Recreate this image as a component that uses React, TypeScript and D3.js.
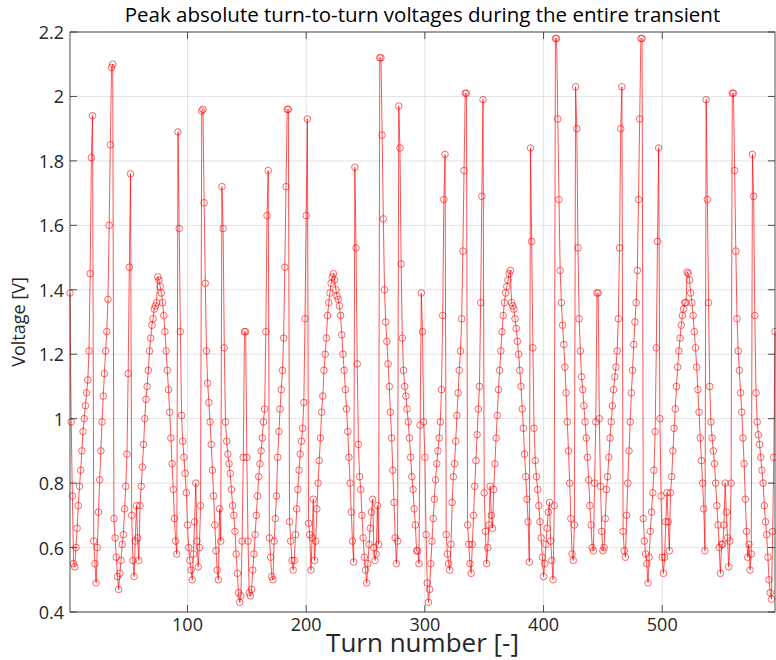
import React from "react";
import * as d3 from "d3";

// Peak absolute turn-to-turn voltage [V] for turn 1..N (turn = index + 1)
const peakVoltage: number[] = [
  // turns 1-20
  1.39, 0.99, 0.76, 0.55, 0.54, 0.60, 0.66, 0.73, 0.79, 0.84, 0.90, 0.96, 1.00, 1.04, 1.08, 1.12, 1.21, 1.45, 1.81, 1.94,
  // 21-37
  0.62, 0.55, 0.49, 0.60, 0.71, 0.81, 0.90, 0.99, 1.07, 1.14, 1.21, 1.27, 1.37, 1.60, 1.85, 2.09, 2.10,
  // 38-52
  0.69, 0.63, 0.57, 0.51, 0.47, 0.52, 0.56, 0.61, 0.64, 0.72, 0.79, 0.89, 1.14, 1.47, 1.76,
  // 53-92
  0.70, 0.56, 0.51, 0.62, 0.73, 0.63, 0.56,
  0.73, 0.79, 0.85, 0.92, 1.00, 1.06, 1.10, 1.15, 1.21, 1.25, 1.29, 1.31, 1.34, 1.35, 1.36,
  1.44,
  1.43, 1.41, 1.39, 1.36, 1.32, 1.27, 1.21, 1.15, 1.09, 1.02, 0.94, 0.86, 0.78, 0.69, 0.62, 0.58,
  1.89,
  // 93-113
  1.59, 1.27, 1.01, 0.93, 0.88, 0.83, 0.77, 0.67, 0.60, 0.56, 0.53, 0.50, 0.58, 0.68, 0.80, 0.62, 0.54, 0.60, 0.73, 1.955, 1.96,
  // 114-129
  1.67, 1.42, 1.21, 1.11, 1.05, 0.99, 0.92, 0.84, 0.76, 0.67, 0.59, 0.53, 0.50, 0.72, 0.62, 1.72,
  // 130-149
  1.59, 1.22, 0.99, 0.93, 0.89, 0.86, 0.83, 0.78, 0.73, 0.70, 0.65, 0.58, 0.52, 0.46, 0.43, 0.45, 0.62, 0.88, 1.27, 1.27,
  // 150-168
  0.88, 0.62, 0.46, 0.45, 0.47, 0.53, 0.58, 0.64, 0.70, 0.76, 0.82, 0.86, 0.90, 0.94, 0.99, 1.03, 1.27, 1.63, 1.77,
  // 169-185
  0.63, 0.57, 0.51, 0.50, 0.62, 0.69, 0.76, 0.88, 0.96, 1.03, 1.09, 1.15, 1.25, 1.47, 1.72, 1.96, 1.96,
  // 186-201
  0.68, 0.62, 0.56, 0.53, 0.56, 0.64, 0.72, 0.78, 0.84, 0.89, 0.93, 0.97, 1.05, 1.31, 1.63, 1.93,
  // 202-241
  0.675, 0.64, 0.53, 0.63, 0.75, 0.56, 0.62, 0.72, 0.80, 0.87, 0.94, 1.02, 1.07, 1.15, 1.20, 1.25, 1.32, 1.36, 1.39, 1.42, 1.44,
  1.45,
  1.43, 1.40, 1.38, 1.37, 1.35, 1.32, 1.26, 1.20, 1.15, 1.09, 1.03, 0.96, 0.88, 0.80, 0.71, 0.62, 0.555,
  1.78,
  // 242-261
  1.53, 1.17, 0.92, 0.82, 0.78, 0.70, 0.63, 0.57, 0.53, 0.49, 0.55, 0.61, 0.66, 0.71, 0.75, 0.60, 0.56, 0.58, 0.73, 0.61,
  // 262-278
  2.12, 2.12, 1.88, 1.62, 1.40, 1.30, 1.24, 1.17, 1.10, 1.02, 0.94, 0.84, 0.74, 0.63, 0.55, 0.62, 1.97,
  // 279-317
  1.84, 1.48, 1.25, 1.15, 1.10, 1.07, 1.03, 0.99, 0.94, 0.88, 0.82, 0.78, 0.72, 0.67, 0.59, 0.59,
  0.55, 0.98, 1.39, 1.27,
  0.99, 0.88, 0.64, 0.49, 0.43, 0.47, 0.55, 0.62, 0.69, 0.75, 0.81, 0.86, 0.90, 0.94, 0.99, 1.09, 1.32,
  1.68, 1.82,
  // 318-335
  0.64, 0.58, 0.55, 0.53, 0.61, 0.74, 0.82, 0.86, 0.93, 1.01, 1.08, 1.15, 1.21, 1.31, 1.52, 1.77, 2.01, 2.01,
  // 336-349
  0.67, 0.61, 0.55, 0.52, 0.61, 0.70, 0.79, 0.87, 0.95, 1.03, 1.10, 1.36, 1.69, 1.99,
  // 350-389
  0.77, 0.65, 0.55, 0.60, 0.67, 0.79, 0.70, 0.66, 0.78,
  0.86, 0.94, 1.01, 1.09, 1.15, 1.21, 1.27, 1.32, 1.36, 1.39, 1.41, 1.43, 1.45, 1.46,
  1.36, 1.35, 1.34, 1.31, 1.28, 1.24, 1.20, 1.15, 1.10, 1.03, 0.97, 0.89, 0.82, 0.75, 0.68, 0.555,
  1.84,
  // 390-411
  1.55, 1.22, 0.97, 0.87, 0.82, 0.78, 0.73, 0.68, 0.63, 0.57,
  0.51, 0.55, 0.61, 0.66, 0.71, 0.74, 0.62, 0.56, 0.50, 0.73, 2.18, 2.18,
  // 412-427
  1.93, 1.68, 1.46, 1.36, 1.29, 1.23, 1.16, 1.08, 0.99, 0.90, 0.80, 0.69, 0.58, 0.56, 0.67, 2.03,
  // 428-446
  1.90, 1.53, 1.31, 1.21, 1.13, 1.09, 1.04, 0.99, 0.94, 0.88, 0.81, 0.73, 0.67, 0.60, 0.59, 0.80, 0.99, 1.39, 1.39,
  // 447-466
  1.00, 0.79, 0.65, 0.59, 0.60, 0.69, 0.78, 0.82, 0.88, 0.94, 0.99, 1.04, 1.09, 1.13, 1.16, 1.21, 1.31, 1.53, 1.90, 2.03,
  // 467-483
  0.65, 0.59, 0.57, 0.70, 0.80, 0.90, 0.99, 1.08, 1.15, 1.23, 1.30, 1.36, 1.46, 1.68, 1.93, 2.18, 2.18,
  // 484-497
  0.69, 0.62, 0.58, 0.55, 0.49, 0.57, 0.65, 0.71, 0.77, 0.84, 0.96, 1.22, 1.55, 1.84,
  // 498-537
  1.00, 0.76, 0.57, 0.52, 0.57, 0.68, 0.77, 0.68, 0.59, 0.77,
  0.82, 0.90, 0.97, 1.03, 1.10, 1.16, 1.21, 1.25, 1.29, 1.32, 1.34, 1.36, 1.36,
  1.455,
  1.45, 1.43, 1.39, 1.36, 1.32, 1.27, 1.22, 1.16, 1.09, 1.02, 0.94, 0.87, 0.80, 0.72, 0.59,
  1.99,
  // 538-595
  1.68, 1.36, 1.10, 0.99, 0.94, 0.90, 0.86, 0.80, 0.73, 0.67, 0.60, 0.52, 0.61, 0.61, 0.67, 0.80, 0.71, 0.63, 0.54, 0.62, 0.80,
  2.01, 2.01,
  1.77, 1.52, 1.31, 1.21, 1.15, 1.08, 1.02, 0.94, 0.86, 0.75, 0.65, 0.57, 0.61, 0.53, 0.58,
  1.82,
  1.69, 1.32, 1.08, 0.99, 0.95, 0.92, 0.88, 0.84, 0.80, 0.73, 0.68, 0.64, 0.57, 0.50, 0.46, 0.44, 0.65, 0.88, 1.27,
];

const yTicks: number[] = [0.4, 0.6, 0.8, 1.0, 1.2, 1.4, 1.6, 1.8, 2.0, 2.2];
const yTickLabels: string[] = ["0.4", "0.6", "0.8", "1", "1.2", "1.4", "1.6", "1.8", "2", "2.2"];
const xTicks: number[] = [100, 200, 300, 400, 500];
const xTickLabels: string[] = ["100", "200", "300", "400", "500"];

const titleText = "Peak absolute turn-to-turn voltages during the entire transient";
const xLabelText = "Turn number [-]";
const yLabelText = "Voltage [V]";

export default function App() {
  const W = 776;
  const H = 660;
  const left = 70;
  const right = 775;
  const top = 32;
  const bottom = 612;
  const font = "'Open Sans', 'Noto Sans', sans-serif";

  const x = d3.scaleLinear().domain([1, peakVoltage.length]).range([left, right]);
  const y = d3.scaleLinear().domain([0.4, 2.2]).range([bottom, top]);

  const linePath =
    d3
      .line<number>()
      .x((_, i) => x(i + 1))
      .y((d) => y(d))(peakVoltage) || "";

  const axisColor = "#262626";
  const gridColor = "#e3e3e3";
  const tickLen = 7;

  return (
    <svg
      width={W}
      height={H}
      style={{ position: "absolute", left: 0, top: 0, background: "#fff" }}
      fontFamily={font}
    >
      <rect x={0} y={0} width={W} height={H} fill="#fff" />
      {/* grid */}
      {yTicks.map((t) => (
        <line key={"gy" + t} x1={left} x2={right} y1={y(t)} y2={y(t)} stroke={gridColor} strokeWidth={1} />
      ))}
      {xTicks.map((t) => (
        <line key={"gx" + t} x1={x(t)} x2={x(t)} y1={top} y2={bottom} stroke={gridColor} strokeWidth={1} />
      ))}

      <defs>
        <clipPath id="clip">
          <rect x={left - 5} y={top - 5} width={right - left + 10} height={bottom - top + 10} />
        </clipPath>
      </defs>
      {/* data */}
      <g clipPath="url(#clip)">
        <path d={linePath} fill="none" stroke="#ff0000" strokeWidth={0.8} strokeOpacity={0.85} />
        {peakVoltage.map((v, i) => (
          <circle
            key={i}
            cx={x(i + 1)}
            cy={y(v)}
            r={3.3}
            fill="none"
            stroke="#ff0000"
            strokeWidth={0.8}
            strokeOpacity={0.75}
          />
        ))}
      </g>

      {/* box */}
      <rect x={left} y={top} width={right - left} height={bottom - top} fill="none" stroke={axisColor} strokeWidth={0.8} />
      {/* ticks */}
      {yTicks.map((t) => (
        <g key={"ty" + t}>
          <line x1={left} x2={left + tickLen} y1={y(t)} y2={y(t)} stroke={axisColor} strokeWidth={0.8} />
          <line x1={right} x2={right - tickLen} y1={y(t)} y2={y(t)} stroke={axisColor} strokeWidth={0.8} />
        </g>
      ))}
      {xTicks.map((t) => (
        <g key={"tx" + t}>
          <line x1={x(t)} x2={x(t)} y1={bottom} y2={bottom - tickLen} stroke={axisColor} strokeWidth={0.8} />
          <line x1={x(t)} x2={x(t)} y1={top} y2={top + tickLen} stroke={axisColor} strokeWidth={0.8} />
        </g>
      ))}

      {/* tick labels */}
      {yTicks.map((t, i) => (
        <text
          key={"ly" + t}
          x={left - 6}
          y={y(t)}
          textAnchor="end"
          dominantBaseline="central"
          fontSize={18}
          fill={axisColor}
        >
          {yTickLabels[i]}
        </text>
      ))}
      {xTicks.map((t, i) => (
        <text key={"lx" + t} x={x(t)} y={bottom + 12} textAnchor="middle" dominantBaseline="central" fontSize={18} fill={axisColor}>
          {xTickLabels[i]}
        </text>
      ))}

      {/* labels */}
      <text x={(left + right) / 2} y={14} textAnchor="middle" dominantBaseline="central" fontSize={20.5} fill="#000">
        {titleText}
      </text>
      <text x={(left + right) / 2} y={652} textAnchor="middle" fontSize={26} fill={axisColor}>
        {xLabelText}
      </text>
      <text
        transform={`translate(${18},${(top + bottom) / 2}) rotate(-90)`}
        textAnchor="middle"
        dominantBaseline="central"
        fontSize={18}
        fill={axisColor}
      >
        {yLabelText}
      </text>
    </svg>
  );
}
